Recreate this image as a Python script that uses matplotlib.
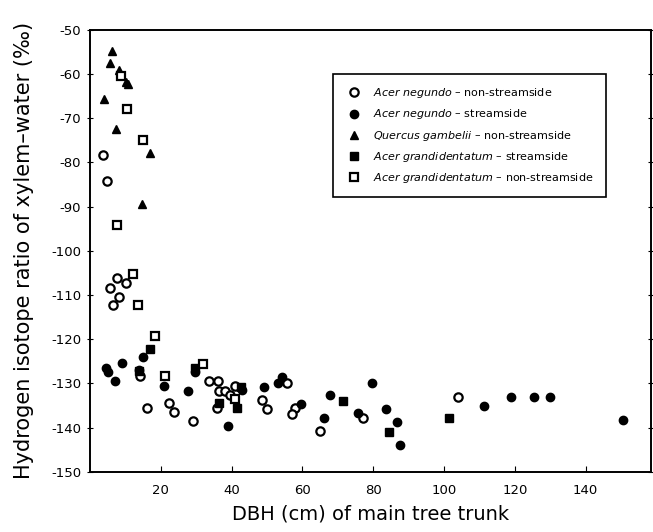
import matplotlib.pyplot as plt

# Acer negundo - non-streamside (open circles)
an_non_x = [3.6, 4.8, 7.6, 10.0, 5.7, 8.3, 6.4, 14.1, 16.0, 22.2, 23.8, 29.2, 33.7, 36.2,
            36.5, 38.2, 39.6, 40.8, 35.9, 48.5, 50.0, 55.6, 58.0, 57.1, 65.0, 77.0, 103.9]
an_non_y = [-78.3, -84.3, -106.2, -107.3, -108.3, -110.4, -112.3, -128.4, -135.5, -134.5,
            -136.5, -138.6, -129.5, -129.5, -131.7, -131.7, -132.6, -130.5, -135.6, -133.7,
            -135.8, -129.9, -135.6, -136.9, -140.8, -137.9, -133.0]

# Acer negundo - streamside (filled circles)
an_str_x = [4.5, 5.0, 9.0, 7.1, 13.7, 14.9, 21.0, 27.6, 29.5, 42.8, 38.9, 49.0, 54.1, 53.2,
            59.6, 66.2, 67.8, 79.7, 75.6, 83.6, 86.6, 87.7, 111.4, 118.9, 125.3, 130.0, 150.6]
an_str_y = [-126.5, -127.4, -125.4, -129.4, -127.0, -124.1, -130.5, -131.6, -127.5, -131.5,
            -139.6, -130.7, -128.6, -129.8, -134.7, -137.7, -132.7, -129.9, -136.7, -135.8,
            -138.8, -143.9, -135.0, -133.1, -133.1, -133.1, -138.3]

# Quercus gambelii - non-streamside (triangles)
qg_non_x = [6.1, 5.5, 8.3, 10.2, 10.6, 3.9, 7.3, 17.0, 14.6]
qg_non_y = [-54.9, -57.6, -59.2, -61.7, -62.3, -65.7, -72.5, -77.9, -89.5]

# Acer grandidentatum - streamside (filled squares)
ag_str_x = [16.8, 13.7, 29.7, 42.5, 36.3, 41.4, 71.4, 84.5, 101.3]
ag_str_y = [-122.2, -127.2, -126.5, -130.9, -134.5, -135.6, -133.9, -141.0, -137.9]

# Acer grandidentatum - non-streamside (open squares)
ag_non_x = [8.6, 10.5, 14.9, 7.6, 12.1, 13.5, 18.4, 21.3, 31.8, 40.8]
ag_non_y = [-60.4, -68.0, -75.0, -94.2, -105.3, -112.3, -119.3, -128.3, -125.5, -133.5]

labels = [r"$\it{Acer\ negundo}$ – non-streamside",
          r"$\it{Acer\ negundo}$ – streamside",
          r"$\it{Quercus\ gambelii}$ – non-streamside",
          r"$\it{Acer\ grandidentatum}$ – streamside",
          r"$\it{Acer\ grandidentatum}$ – non-streamside"]

x_ticks = [20, 40, 60, 80, 100, 120, 140]
y_ticks = list(range(-150, -49, 10))

plt.rcParams['axes.unicode_minus'] = False

fig = plt.figure(figsize=(6.53, 5.32), dpi=100)
ax = fig.add_axes([0.138, 0.113, 0.859, 0.831])

ms = 6
ax.plot(an_non_x, an_non_y, 'o', ms=ms, mfc='white', mec='black', mew=1.6, label=labels[0])
ax.plot(an_str_x, an_str_y, 'o', ms=ms, mfc='black', mec='black', label=labels[1])
ax.plot(qg_non_x, qg_non_y, '^', ms=ms, mfc='black', mec='black', label=labels[2])
ax.plot(ag_str_x, ag_str_y, 's', ms=ms - 0.5, mfc='black', mec='black', label=labels[3])
ax.plot(ag_non_x, ag_non_y, 's', ms=ms - 0.5, mfc='white', mec='black', mew=1.6, label=labels[4])

ax.set_xlim(0, 158.5)
ax.set_ylim(-150, -50)
ax.set_xticks(x_ticks)
ax.set_yticks(y_ticks)
ax.tick_params(axis='x', direction='in', length=4, labelsize=9.5, pad=9)
ax.tick_params(axis='y', direction='inout', length=5, labelsize=9.5, right=True, pad=4)
for s in ax.spines.values():
    s.set_linewidth(1.4)

ax.set_xlabel("DBH (cm) of main tree trunk", fontsize=14, labelpad=5)
ax.set_ylabel("Hydrogen isotope ratio of xylem–water (‰)", fontsize=15, labelpad=12)

leg = ax.legend(loc='upper left', bbox_to_anchor=(0.433, 0.90), borderaxespad=0,
                fontsize=8, frameon=True, fancybox=False, edgecolor='black', framealpha=1,
                borderpad=1.1, labelspacing=0.65, handletextpad=1.0, handlelength=1.5)
leg.get_frame().set_linewidth(1.2)

fig.savefig("out.png", dpi=100)
